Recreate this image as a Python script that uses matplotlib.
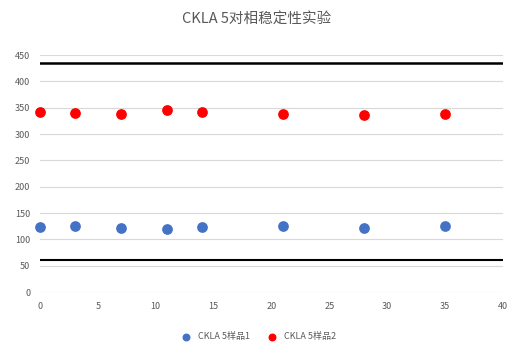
import matplotlib
matplotlib.use("Agg")
import matplotlib.pyplot as plt

plt.rcParams['font.family'] = ['Noto Sans CJK SC', 'DejaVu Sans']

title = "CKLA 5对相稳定性实验"
days = [0, 3, 7, 11, 14, 21, 28, 35]
series1_name = "CKLA 5样品1"
series1 = [123, 125, 122, 120, 123, 125, 122, 125]
series2_name = "CKLA 5样品2"
series2 = [342, 340, 338, 345, 342, 338, 336, 338]
upper_limit = 435
lower_limit = 61
x_ticks = [0, 5, 10, 15, 20, 25, 30, 35, 40]
y_ticks = [0, 50, 100, 150, 200, 250, 300, 350, 400, 450]

fig = plt.figure(figsize=(5.13, 3.46), dpi=100)
ax = fig.add_axes([40/513, 1-292/346, 463/513, 237/346])

ax.set_xlim(0, 40)
ax.set_ylim(0, 450)
ax.set_xticks(x_ticks)
ax.set_yticks(y_ticks)
ax.grid(axis='y', color='#d9d9d9', linewidth=0.8)
ax.set_axisbelow(True)
for s in ax.spines.values():
    s.set_visible(False)
ax.tick_params(length=0, labelsize=6.5, colors='#595959', pad=7)

ax.axhline(upper_limit, color='black', linewidth=1.8)
ax.axhline(lower_limit, color='black', linewidth=1.5)

ax.scatter(days, series1, s=45, color='#4472c4', label=series1_name, zorder=3, clip_on=False)
ax.scatter(days, series2, s=45, color='#ff0000', label=series2_name, zorder=3, clip_on=False)

fig.suptitle(title, y=1-20/346, fontsize=10.5, color='#595959', va='center')
fig.legend(loc='center', bbox_to_anchor=(0.5, 1-337/346), ncol=2, frameon=False,
           fontsize=6.5, labelcolor='#595959', handletextpad=0.3, columnspacing=1.5,
           markerscale=0.7)

fig.savefig("out.png", dpi=100)
